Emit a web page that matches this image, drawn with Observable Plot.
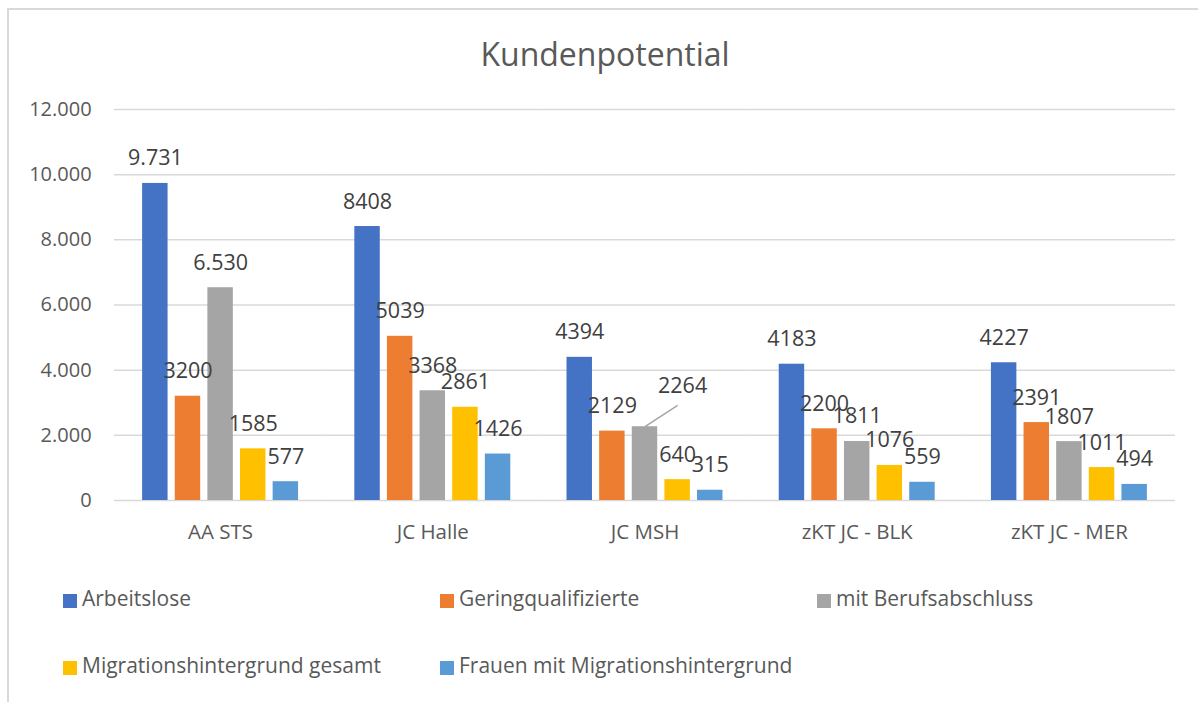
<!DOCTYPE html>
<html><head><meta charset="utf-8">
<script src="https://cdn.jsdelivr.net/npm/d3@7"></script>
<script src="https://cdn.jsdelivr.net/npm/@observablehq/plot@0.6"></script>
<style>
body{margin:0;background:#fff;font-family:"Open Sans",sans-serif;}
#wrap{position:relative;width:1198px;height:702px;overflow:hidden;background:#fff;}
#frame{position:absolute;left:7px;top:8px;width:1300px;height:800px;border:2px solid #d9d9d9;}
#title{position:absolute;left:6px;top:38px;width:1198px;text-align:center;font-size:32px;line-height:32px;color:#595959;}
#chart{position:absolute;left:0;top:90px;}
.leg{position:absolute;font-size:21px;line-height:21px;color:#595959;white-space:nowrap;}
.sw{position:absolute;width:14px;height:14px;}
</style></head>
<body><div id="wrap"><div id="frame"></div><div id="title">Kundenpotential</div><div id="chart"></div><div id="legend"></div></div>
<script>
const categories = ["AA STS", "JC Halle", "JC MSH", "zKT JC - BLK", "zKT JC - MER"];
const series = ["Arbeitslose", "Geringqualifizierte", "mit Berufsabschluss", "Migrationshintergrund gesamt", "Frauen mit Migrationshintergrund"];
const colors = ["#4472C4", "#ED7D31", "#A5A5A5", "#FFC000", "#5B9BD5"];
const arbeitslose = [9731, 8408, 4394, 4183, 4227];
const geringqualifizierte = [3200, 5039, 2129, 2200, 2391];
const mitBerufsabschluss = [6530, 3368, 2264, 1811, 1807];
const migrationGesamt = [1585, 2861, 640, 1076, 1011];
const frauenMigration = [577, 1426, 315, 559, 494];
const yTicks = [0, 2000, 4000, 6000, 8000, 10000, 12000];
// labels that are shown with a thousands separator in the original
const separatorLabels = [["AA STS", "Arbeitslose"], ["AA STS", "mit Berufsabschluss"]];
// the one label moved aside with a leader line (label anchor value)
const leader = {cat: "JC MSH", from: "mit Berufsabschluss", to: "Migrationshintergrund gesamt", anchorValue: 2916};

const seriesValues = [arbeitslose, geringqualifizierte, mitBerufsabschluss, migrationGesamt, frauenMigration];
const deFmt = d3.formatLocale({decimal: ",", thousands: ".", grouping: [3], currency: ["", "€"]}).format(",");

const data = categories.flatMap((c, i) => series.map((s, j) => ({cat: c, series: s, value: seriesValues[j][i]})));
data.forEach(d => {
  d.label = separatorLabels.some(([c, s]) => c === d.cat && s === d.series) ? deFmt(d.value) : String(d.value);
});
const mainLabels = data.filter(d => !(d.cat === leader.cat && d.series === leader.from));
const leaderSrc = data.find(d => d.cat === leader.cat && d.series === leader.from);
const leaderData = [{cat: leader.cat, from: leader.from, to: leader.to, y1: leaderSrc.value, y2: leader.anchorValue, label: leaderSrc.label}];

const chart = Plot.plot({
  width: 1198, height: 460,
  marginLeft: 114, marginRight: 23, marginTop: 19, marginBottom: 50,
  style: {fontFamily: "'Open Sans', sans-serif", background: "transparent", overflow: "visible"},
  fx: {domain: categories, paddingInner: 0.265, paddingOuter: 0.1325, round: false, label: null},
  x: {domain: series, paddingInner: 0.22, paddingOuter: 0, round: false, axis: null},
  y: {domain: [0, 12000]},
  color: {domain: series, range: colors},
  marks: [
    Plot.ruleY(yTicks, {stroke: "#d9d9d9", strokeWidth: 1.5, insetLeft: -28.1, insetRight: -28.1}),
    Plot.axisY(yTicks, {tickSize: 0, tickPadding: 51, tickFormat: deFmt, fontSize: 20, fill: "#595959", label: null}),
    Plot.axisFx({anchor: "bottom", tickSize: 0, tickPadding: 24, fontSize: 20.5, fill: "#595959", label: null}),
    Plot.barY(data, {fx: "cat", x: "series", y: "value", fill: "series"}),
    Plot.text(mainLabels, {fx: "cat", x: "series", y: "value", text: "label", dy: -18, lineAnchor: "bottom", fontSize: 21.5, fill: "#404040"}),
    Plot.link(leaderData, {fx: "cat", x1: "from", x2: "to", y1: "y1", y2: "y2", stroke: "#a5a5a5", strokeWidth: 1.5}),
    Plot.text(leaderData, {fx: "cat", x: "to", y: "y2", text: "label", dx: 5, dy: -12, lineAnchor: "bottom", fontSize: 21.5, fill: "#404040"})
  ]
});
document.getElementById("chart").appendChild(chart);

const legend = document.getElementById("legend");
series.forEach((s, i) => {
  const row = Math.floor(i / 3), col = i % 3;
  const left = 63 + col * 377;
  const top = 588 + row * 67;
  const sw = document.createElement("div");
  sw.className = "sw";
  sw.style.left = left + "px";
  sw.style.top = (top + 6) + "px";
  sw.style.background = colors[i];
  legend.appendChild(sw);
  const t = document.createElement("div");
  t.className = "leg";
  t.style.left = (left + 19) + "px";
  t.style.top = top + "px";
  t.textContent = s;
  legend.appendChild(t);
});
</script>
</body></html>
